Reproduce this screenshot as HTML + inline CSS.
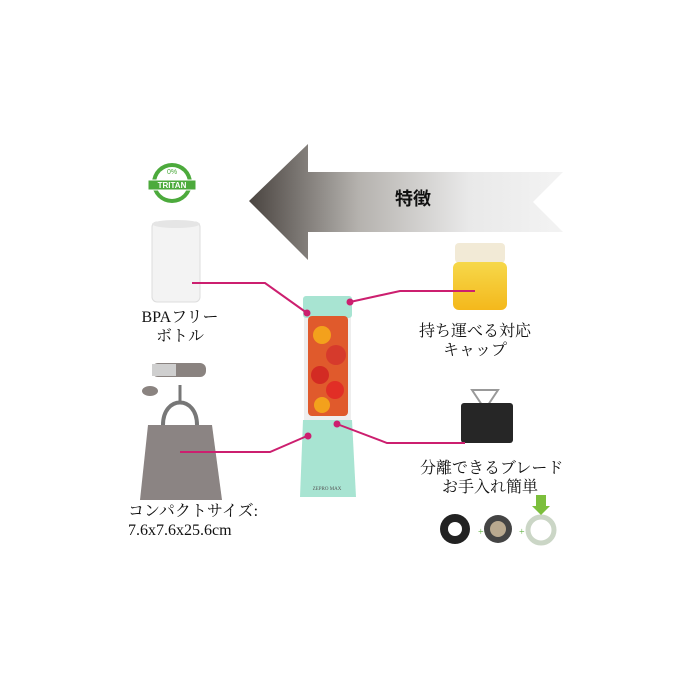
<!DOCTYPE html>
<html><head><meta charset="utf-8"><style>
body{margin:0;width:700px;height:700px;background:#fff;overflow:hidden;position:relative;font-family:"Liberation Serif","Noto Serif CJK SC",serif;color:#111}
.t{position:absolute;font-size:16px;line-height:19px;text-align:center;white-space:nowrap}
</style></head><body>
<svg width="700" height="700" style="position:absolute;left:0;top:0">
<defs>
<linearGradient id="ag" x1="249" y1="0" x2="563" y2="0" gradientUnits="userSpaceOnUse">
<stop offset="0" stop-color="#4a4440"/><stop offset="0.35" stop-color="#b5b2ae"/><stop offset="0.7" stop-color="#e9e9e9"/><stop offset="1" stop-color="#f3f3f3"/></linearGradient>
<linearGradient id="jg" x1="0" y1="0" x2="0" y2="1"><stop offset="0" stop-color="#f6d84a"/><stop offset="1" stop-color="#f4b81c"/></linearGradient>
</defs>
<polygon points="249,201 308,144 308,172 563,172 533,202 563,232 308,232 308,260" fill="url(#ag)"/>
<!-- tritan badge -->
<circle cx="172" cy="183" r="20" fill="#4caa3c"/><circle cx="172" cy="183" r="16" fill="#fff"/>
<rect x="148" y="180" width="48" height="10" fill="#4caa3c" stroke="#fff"/>
<text x="172" y="174" font-size="7" fill="#4caa3c" text-anchor="middle" font-family="Liberation Sans">0%</text>
<text x="172" y="188" font-size="8" fill="#fff" text-anchor="middle" font-family="Liberation Sans" font-weight="bold">TRITAN</text>
<!-- bottle -->
<rect x="152" y="222" width="48" height="80" rx="5" fill="#f3f3f3" stroke="#ddd"/>
<ellipse cx="176" cy="224" rx="24" ry="4" fill="#e5e5e5"/>
<!-- jar -->
<rect x="455" y="243" width="50" height="20" rx="4" fill="#f2ead6"/>
<rect x="453" y="262" width="54" height="48" rx="6" fill="url(#jg)"/>
<!-- blender -->
<rect x="303" y="296" width="49" height="22" rx="3" fill="#a8e4d2"/>
<rect x="304" y="318" width="47" height="102" fill="#eee"/>
<rect x="308" y="316" width="40" height="100" rx="4" fill="#e05a2c"/>
<circle cx="322" cy="335" r="9" fill="#f3a11c"/><circle cx="336" cy="355" r="10" fill="#d63a2c"/><circle cx="320" cy="375" r="9" fill="#d32b23"/><circle cx="335" cy="390" r="9" fill="#e12e26"/><circle cx="322" cy="405" r="8" fill="#f3a11c"/>
<polygon points="303,420 352,420 356,497 300,497" fill="#a8e4d2"/>
<text x="327" y="490" font-size="5" fill="#555" text-anchor="middle">ZEPRO MAX</text>
<!-- bag -->
<rect x="152" y="363" width="54" height="14" rx="6" fill="#8a8380"/><rect x="152" y="364" width="24" height="12" fill="#cfcfcf"/>
<ellipse cx="150" cy="391" rx="8" ry="5" fill="#8a8380"/>
<line x1="180" y1="385" x2="180" y2="403" stroke="#777" stroke-width="3"/>
<path d="M163 425 C163 395 197 395 197 425" fill="none" stroke="#777" stroke-width="4"/>
<path d="M148 425 L212 425 L222 500 L140 500 Z" fill="#8b8483"/>
<!-- blade -->
<polygon points="472,390 482,405 488,405 498,390" fill="none" stroke="#999" stroke-width="2"/>
<rect x="461" y="403" width="52" height="40" rx="3" fill="#262626"/>
<!-- parts -->
<circle cx="455" cy="529" r="15" fill="#222"/><circle cx="455" cy="529" r="7" fill="#fff"/>
<circle cx="498" cy="529" r="14" fill="#444"/><circle cx="498" cy="529" r="8" fill="#b9a98f"/>
<circle cx="541" cy="530" r="13" fill="none" stroke="#cbd6c6" stroke-width="5"/>
<polygon points="536,495 546,495 546,506 550,506 541,515 532,506 536,506" fill="#7cbf3c"/>
<text x="478" y="535" font-size="10" fill="#5fb040">+</text><text x="519" y="535" font-size="10" fill="#5fb040">+</text>
<!-- connectors -->
<g stroke="#cc1f6f" stroke-width="2" fill="none">
<polyline points="192,283 265,283 307,313"/>
<polyline points="350,302 400,291 475,291"/>
<polyline points="180,452 270,452 307,436"/>
<polyline points="337,424 387,443 465,443"/>
</g>
<g fill="#cc1f6f"><circle cx="307" cy="313" r="3.5"/><circle cx="350" cy="302" r="3.5"/><circle cx="308" cy="436" r="3.5"/><circle cx="337" cy="424" r="3.5"/></g>
</svg>
<div class="t" style="left:395px;top:190px;font-size:18px;font-weight:bold;font-family:'Liberation Sans','Noto Sans CJK JP',sans-serif">特徴</div>
<div class="t" style="left:140px;top:308px;width:80px">BPAフリー<br>ボトル</div>
<div class="t" style="left:415px;top:322px;width:120px">持ち運べる対応<br>キャップ</div>
<div class="t" style="left:420px;top:459px;width:140px">分離できるブレード<br>お手入れ簡単</div>
<div class="t" style="left:128px;top:502px;text-align:left">コンパクトサイズ:<br>7.6x7.6x25.6cm</div>
</body></html>
